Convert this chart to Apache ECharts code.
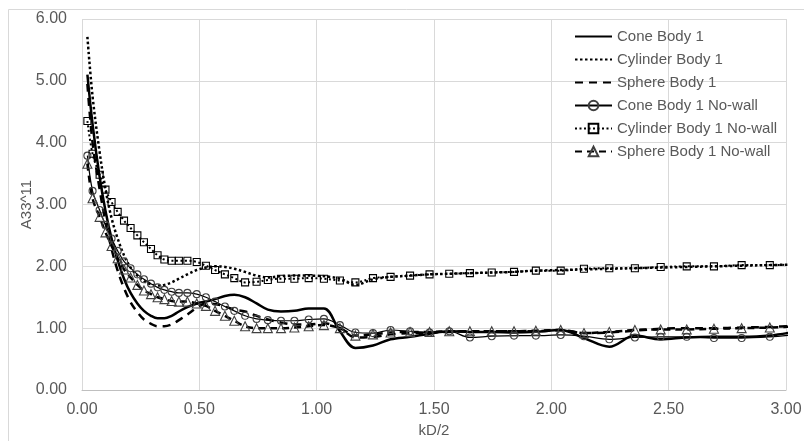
<!DOCTYPE html>
<html>
<head>
<meta charset="utf-8">
<script src="https://cdn.jsdelivr.net/npm/echarts@6/dist/echarts.min.js"></script>
<style>
  html, body { margin: 0; padding: 0; background: #fff; }
  #chart { width: 804px; height: 441px; }
</style>
</head>
<body>
<div id="chart"></div>
<script>
// Non-dimensional wavenumber kD/2 (shared by every series)
const kd = [0.023, 0.045, 0.075, 0.100, 0.126, 0.152, 0.179, 0.207, 0.236, 0.264,
            0.294, 0.322, 0.351, 0.382, 0.413, 0.449, 0.489, 0.528, 0.567, 0.609,
            0.649, 0.695, 0.744, 0.792, 0.848, 0.905, 0.966, 1.031, 1.099, 1.165,
            1.240, 1.315, 1.398, 1.481, 1.565, 1.653, 1.746, 1.841, 1.934, 2.040,
            2.139, 2.247, 2.356, 2.466, 2.577, 2.693, 2.811, 2.931, 3.050];

// Added mass A33^11 for each body, with tank walls
const coneBody = [5.10, 4.30, 3.45, 2.90, 2.45, 2.10, 1.80, 1.57, 1.40, 1.28,
                  1.20, 1.16, 1.16, 1.20, 1.27, 1.34, 1.40, 1.43, 1.47, 1.52,
                  1.54, 1.50, 1.40, 1.30, 1.27, 1.28, 1.32, 1.32, 0.95, 0.68,
                  0.72, 0.82, 0.86, 0.91, 0.95, 0.94, 0.94, 0.93, 0.94, 0.97,
                  0.84, 0.70, 0.88, 0.82, 0.85, 0.86, 0.86, 0.88, 0.95];
const cylinderBody = [5.71, 4.75, 3.85, 3.25, 2.78, 2.45, 2.18, 1.98, 1.85, 1.76,
                      1.71, 1.69, 1.70, 1.74, 1.80, 1.87, 1.94, 1.98, 2.00, 1.99,
                      1.96, 1.91, 1.85, 1.82, 1.84, 1.85, 1.85, 1.84, 1.80, 1.70,
                      1.79, 1.83, 1.85, 1.87, 1.88, 1.89, 1.90, 1.91, 1.93, 1.94,
                      1.95, 1.96, 1.97, 1.98, 1.99, 2.00, 2.01, 2.02, 2.03];
const sphereBody = [4.95, 4.00, 3.25, 2.72, 2.28, 1.93, 1.65, 1.42, 1.26, 1.14,
                    1.07, 1.03, 1.03, 1.06, 1.13, 1.22, 1.33, 1.40, 1.39, 1.35,
                    1.30, 1.27, 1.20, 1.14, 1.09, 1.06, 1.06, 1.08, 1.00, 0.85,
                    0.86, 0.90, 0.92, 0.93, 0.94, 0.95, 0.95, 0.95, 0.95, 0.97,
                    0.92, 0.93, 0.96, 0.99, 1.00, 1.00, 1.01, 1.02, 1.04];

// Same bodies without walls
const coneNoWall = [3.79, 3.22, 2.91, 2.67, 2.45, 2.25, 2.08, 1.97, 1.87, 1.79,
                    1.72, 1.66, 1.62, 1.59, 1.57, 1.57, 1.55, 1.50, 1.43, 1.35,
                    1.28, 1.20, 1.15, 1.13, 1.12, 1.12, 1.14, 1.15, 1.05, 0.93,
                    0.92, 0.97, 0.95, 0.93, 0.95, 0.85, 0.87, 0.88, 0.88, 0.89,
                    0.87, 0.82, 0.85, 0.86, 0.86, 0.84, 0.84, 0.86, 0.90];
const cylinderNoWall = [4.35, 3.82, 3.48, 3.24, 3.04, 2.88, 2.74, 2.62, 2.50, 2.39,
                        2.28, 2.18, 2.11, 2.09, 2.09, 2.09, 2.07, 2.01, 1.94, 1.87,
                        1.81, 1.74, 1.75, 1.78, 1.80, 1.80, 1.81, 1.80, 1.77, 1.74,
                        1.81, 1.83, 1.85, 1.87, 1.88, 1.89, 1.90, 1.91, 1.93, 1.93,
                        1.96, 1.97, 1.97, 1.99, 2.00, 2.00, 2.02, 2.02, 2.03];
const sphereNoWall = [3.66, 3.10, 2.80, 2.55, 2.33, 2.13, 1.95, 1.82, 1.70, 1.61,
                      1.55, 1.50, 1.47, 1.44, 1.43, 1.43, 1.40, 1.36, 1.28, 1.20,
                      1.12, 1.03, 1.00, 1.00, 1.00, 1.01, 1.03, 1.05, 1.00, 0.88,
                      0.90, 0.93, 0.94, 0.94, 0.95, 0.95, 0.95, 0.95, 0.96, 0.97,
                      0.92, 0.94, 0.97, 0.98, 0.98, 0.99, 1.00, 1.01, 1.03];

const seriesNames = ['Cone Body 1', 'Cylinder Body 1', 'Sphere Body 1',
                     'Cone Body 1 No-wall', 'Cylinder Body 1 No-wall', 'Sphere Body 1 No-wall'];

const FONT = 'Liberation Sans, Arial, sans-serif';
const TEXT = '#595959';

const pairs = arr => kd.map((x, i) => [x, arr[i]]);

function curve(name, values, line, marker) {
  const s = {
    name: name,
    type: 'line',
    data: pairs(values),
    smooth: 0.35,
    clip: true,
    lineStyle: Object.assign({ color: '#000', cap: 'butt' }, line),
    itemStyle: { color: '#000' },
    emphasis: { disabled: true },
    z: 3
  };
  if (marker) {
    s.symbol = marker.symbol;
    s.symbolSize = marker.size;
    s.showSymbol = true;
    s.itemStyle = { color: 'rgba(255,255,255,0)', borderColor: marker.border, borderWidth: 1.1 };
  } else {
    s.symbol = 'none';
  }
  return s;
}

// Plain line samples in the legend for the curves drawn without markers
const legendItems = seriesNames.map((name, i) =>
  i < 3 ? { name: name, itemStyle: { opacity: 0 } } : { name: name });

const chart = echarts.init(document.getElementById('chart'), null, { renderer: 'canvas' });

chart.setOption({
  animation: false,
  backgroundColor: '#fff',
  graphic: [{
    type: 'rect',
    shape: { x: 8.5, y: 9.5, width: 800, height: 440 },
    style: { fill: 'none', stroke: '#d9d9d9', lineWidth: 1 },
    silent: true, z: -10
  }],
  grid: { left: 82, right: 18, top: 19, bottom: 51, containLabel: false, outerBoundsMode: 'none' },
  legend: {
    orient: 'vertical',
    left: 569,
    top: 24,
    itemWidth: 37,
    itemHeight: 12,
    itemGap: 8,
    data: legendItems,
    textStyle: { color: TEXT, fontFamily: FONT, fontSize: 15 }
  },
  xAxis: {
    type: 'value',
    min: 0, max: 3, interval: 0.5,
    name: 'kD/2',
    nameLocation: 'middle',
    nameGap: 33,
    nameMoveOverlap: false,
    nameTextStyle: { color: TEXT, fontFamily: FONT, fontSize: 15 },
    axisLine: { show: true, lineStyle: { color: '#bfbfbf', width: 1 } },
    axisTick: { show: false },
    axisLabel: { color: TEXT, fontFamily: FONT, fontSize: 16, margin: 12,
                 formatter: v => v.toFixed(2) },
    splitLine: { show: true, lineStyle: { color: '#d9d9d9', width: 1 } }
  },
  yAxis: {
    type: 'value',
    min: 0, max: 6, interval: 1,
    name: 'A33^11',
    nameLocation: 'middle',
    nameGap: 48,
    nameMoveOverlap: false,
    nameTextStyle: { color: TEXT, fontFamily: FONT, fontSize: 15 },
    axisLine: { show: false },
    axisTick: { show: false },
    axisLabel: { color: TEXT, fontFamily: FONT, fontSize: 16, margin: 15,
                 formatter: v => v.toFixed(2) },
    splitLine: { show: true, lineStyle: { color: '#d9d9d9', width: 1 } }
  },
  series: [
    curve(seriesNames[0], coneBody, { width: 2.5, type: 'solid' }),
    curve(seriesNames[1], cylinderBody, { width: 2.5, type: [2.5, 2.5] }),
    curve(seriesNames[2], sphereBody, { width: 2.5, type: [8, 6] }),
    curve(seriesNames[3], coneNoWall, { width: 1.2, type: 'solid' },
          { symbol: 'circle', size: 7, border: '#404040' }),
    curve(seriesNames[4], cylinderNoWall, { width: 2, type: [2, 2.5] },
          { symbol: 'rect', size: 7, border: '#000' }),
    curve(seriesNames[5], sphereNoWall, { width: 2.5, type: [7, 5] },
          { symbol: 'triangle', size: 9, border: '#404040' })
  ]
});
</script>
</body>
</html>
